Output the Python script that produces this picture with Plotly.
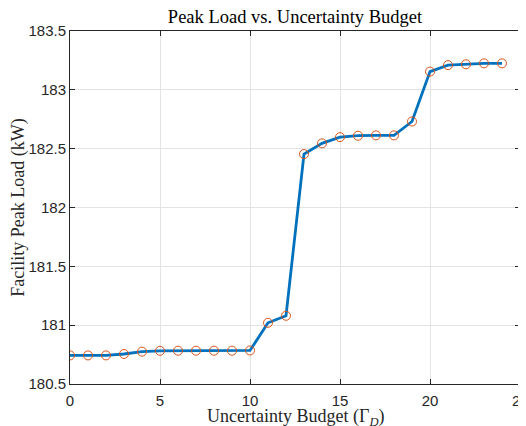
import plotly.graph_objects as go

budget = list(range(25))
peak_load = [180.743, 180.743, 180.743, 180.755, 180.775, 180.782, 180.783, 180.783, 180.783, 180.783, 180.785,
             181.02, 181.08, 182.454, 182.545, 182.598, 182.61, 182.613, 182.613, 182.731,
             183.155, 183.21, 183.217, 183.225, 183.225]

x_ticks = [0, 5, 10, 15, 20, 25]
y_ticks = [180.5, 181, 181.5, 182, 182.5, 183, 183.5]
y_tick_text = ["180.5", "181", "181.5", "182", "182.5", "183", "183.5"]

serif = "Liberation Serif, Times New Roman, serif"
sans = "Liberation Sans, Arial, sans-serif"

fig = go.Figure()
fig.add_trace(go.Scatter(x=budget, y=peak_load, mode="lines",
                         line=dict(color="#0072BD", width=2.8), showlegend=False))
fig.add_trace(go.Scatter(x=budget, y=peak_load, mode="markers",
                         marker=dict(symbol="circle-open", color="#D95319", size=9, line=dict(width=1)),
                         showlegend=False))

axis_common = dict(showgrid=True, gridcolor="#e3e3e3", gridwidth=1, zeroline=False,
                   showline=True, linecolor="#262626", linewidth=1, mirror="ticks",
                   ticks="inside", ticklen=5, tickcolor="#262626", automargin=False,
                   tickfont=dict(family=sans, size=15, color="#262626"))

fig.update_layout(
    width=518, height=418,
    paper_bgcolor="white", plot_bgcolor="white",
    margin=dict(l=62, r=6, t=23, b=42),
    title=dict(text="Peak Load vs. Uncertainty Budget", x=(295 - 8) / 518, xanchor="center",
               y=1 - 9 / 418, yanchor="middle",
               font=dict(family=serif, size=18.5, color="#000000")),
    xaxis=dict(range=[0, 25], tickvals=x_ticks, ticklabelstandoff=3, **axis_common),
    yaxis=dict(range=[180.5, 183.5], tickvals=y_ticks, ticktext=y_tick_text,
               title=dict(text="Facility Peak Load (kW)",
                          font=dict(family=serif, size=18, color="#262626")),
               **axis_common),
)

# x-axis title placed below the tick labels
fig.add_annotation(x=0.5, y=0, xref="paper", yref="paper",
                   text="Uncertainty Budget (Γ<sub><i>D</i></sub>)",
                   showarrow=False, xanchor="center", yanchor="middle", yshift=-33,
                   font=dict(family=serif, size=18, color="#262626"))

# last x tick label sits on the figure's right edge (partly cut, as in the reference)
fig.add_annotation(x=x_ticks[-1], y=0, xref="x", yref="paper", text=str(x_ticks[-1]),
                   showarrow=False, xanchor="center", yanchor="top", yshift=-6,
                   font=dict(family=sans, size=15, color="#262626"))

fig.write_html("out.html")
